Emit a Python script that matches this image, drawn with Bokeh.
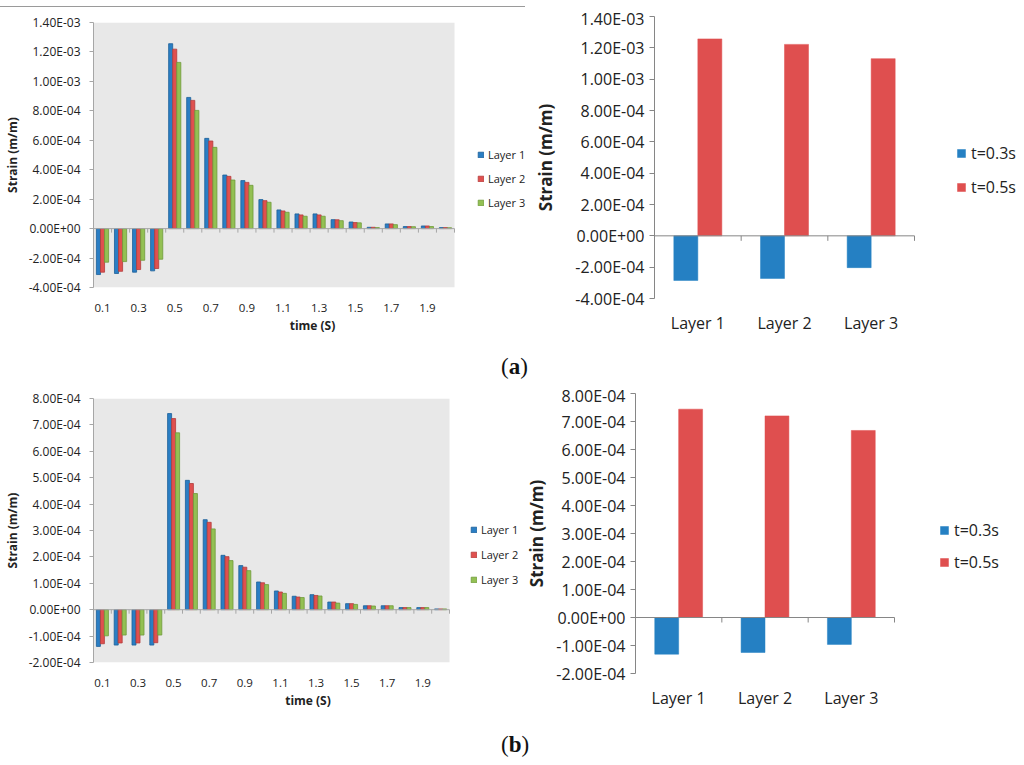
from bokeh.plotting import figure
from bokeh.layouts import column, row
from bokeh.models import Legend, LegendItem, FixedTicker, Range1d, Div, Spacer, BoxAnnotation
from bokeh.embed import file_html
from bokeh.resources import INLINE

# ---------------- data ----------------
times = ["0.1", "0.2", "0.3", "0.4", "0.5", "0.6", "0.7", "0.8", "0.9", "1.0",
         "1.1", "1.2", "1.3", "1.4", "1.5", "1.6", "1.7", "1.8", "1.9", "2.0"]
series_names = ["Layer 1", "Layer 2", "Layer 3"]

a_layer1 = [-3.12e-4, -3.05e-4, -2.96e-4, -2.87e-4, 1.256e-3, 8.91e-4, 6.13e-4, 3.64e-4, 3.26e-4, 1.97e-4,
            1.27e-4, 1.00e-4, 1.00e-4, 6.1e-5, 4.5e-5, 9e-6, 3.2e-5, 1.4e-5, 1.8e-5, 7e-6]
a_layer2 = [-2.96e-4, -2.90e-4, -2.78e-4, -2.71e-4, 1.219e-3, 8.71e-4, 5.95e-4, 3.55e-4, 3.14e-4, 1.90e-4,
            1.20e-4, 9.3e-5, 9.3e-5, 6.0e-5, 4.1e-5, 9e-6, 3.2e-5, 1.4e-5, 1.8e-5, 7e-6]
a_layer3 = [-2.28e-4, -2.24e-4, -2.15e-4, -2.08e-4, 1.129e-3, 8.03e-4, 5.52e-4, 3.30e-4, 2.94e-4, 1.79e-4,
            1.11e-4, 8.4e-5, 8.4e-5, 5.4e-5, 3.9e-5, 7e-6, 2.7e-5, 1.3e-5, 1.4e-5, 6e-6]

b_layer1 = [-1.39e-4, -1.34e-4, -1.34e-4, -1.34e-4, 7.43e-4, 4.90e-4, 3.41e-4, 2.06e-4, 1.67e-4, 1.05e-4,
            7.1e-5, 5.1e-5, 5.7e-5, 2.9e-5, 2.3e-5, 1.5e-5, 1.5e-5, 8e-6, 8e-6, 3e-6]
b_layer2 = [-1.29e-4, -1.26e-4, -1.26e-4, -1.25e-4, 7.24e-4, 4.78e-4, 3.31e-4, 2.01e-4, 1.61e-4, 1.02e-4,
            6.7e-5, 4.8e-5, 5.4e-5, 2.9e-5, 2.3e-5, 1.5e-5, 1.5e-5, 8e-6, 8e-6, 3e-6]
b_layer3 = [-0.99e-4, -0.96e-4, -0.96e-4, -0.96e-4, 6.70e-4, 4.40e-4, 3.06e-4, 1.86e-4, 1.48e-4, 0.95e-4,
            6.2e-5, 4.6e-5, 5.2e-5, 2.5e-5, 2.0e-5, 1.4e-5, 1.5e-5, 8e-6, 8e-6, 3e-6]

layers = ["Layer 1", "Layer 2", "Layer 3"]
snap_names = ["t=0.3s", "t=0.5s"]
a_t03 = [-2.85e-4, -2.72e-4, -2.03e-4]
a_t05 = [1.257e-3, 1.222e-3, 1.131e-3]
b_t03 = [-1.31e-4, -1.25e-4, -0.96e-4]
b_t05 = [7.44e-4, 7.20e-4, 6.68e-4]

a_yticks = [-4e-4, -2e-4, 0.0, 2e-4, 4e-4, 6e-4, 8e-4, 1e-3, 1.2e-3, 1.4e-3]
a_ylabels = ["-4.00E-04", "-2.00E-04", "0.00E+00", "2.00E-04", "4.00E-04", "6.00E-04",
             "8.00E-04", "1.00E-03", "1.20E-03", "1.40E-03"]
b_yticks = [-2e-4, -1e-4, 0.0, 1e-4, 2e-4, 3e-4, 4e-4, 5e-4, 6e-4, 7e-4, 8e-4]
b_ylabels = ["-2.00E-04", "-1.00E-04", "0.00E+00", "1.00E-04", "2.00E-04", "3.00E-04",
             "4.00E-04", "5.00E-04", "6.00E-04", "7.00E-04", "8.00E-04"]

# ---------------- styles ----------------
FONT = "Open Sans"
TXT = "#222222"
L_FILL = ["#2a7ec4", "#e0504f", "#93c053"]
L_EDGE = ["#1d5f98", "#b33c3c", "#6f9a3a"]
R_FILL = ["#2580c3", "#df4f4f"]
L_AXIS = "#a6a6a6"
R_AXIS = "#868686"


def style_legend(leg, glyph, label_h, spacing, font_size, standoff):
    leg.background_fill_alpha = 0
    leg.border_line_alpha = 0
    leg.padding = 0
    leg.margin = 0
    leg.glyph_width = glyph
    leg.glyph_height = glyph
    leg.label_height = label_h
    leg.spacing = spacing
    leg.label_standoff = standoff
    leg.label_text_font = FONT
    leg.label_text_font_size = font_size
    leg.label_text_color = TXT


def time_chart(vals, yticks, ylabels, fw, data_w, fh, bl, bt, bb, leg_loc, leg_spacing):
    n = len(times)
    x_end = -0.5 + n * fw / data_w
    p = figure(output_backend="svg", toolbar_location=None,
               frame_width=fw, frame_height=fh,
               min_border_left=bl, min_border_right=0, min_border_top=bt, min_border_bottom=bb,
               x_range=Range1d(-0.5, x_end), y_range=Range1d(yticks[0], yticks[-1]))
    p.background_fill_color = "white"
    p.border_fill_color = "white"
    p.outline_line_color = None
    p.xgrid.visible = False
    p.ygrid.visible = False
    # grey plot area behind the data only
    p.add_layout(BoxAnnotation(left=-0.5, right=n - 0.5, fill_color="#e8e8e8", fill_alpha=1,
                               line_color=None, level="underlay"))

    bw = 0.225
    renderers = []
    for k, v in enumerate(vals):
        xs = [i + (k - 1) * bw for i in range(n)]
        r = p.vbar(x=xs, top=v, bottom=0, width=bw, fill_color=L_FILL[k],
                   line_color=L_EDGE[k], line_width=0.8)
        renderers.append(r)

    # horizontal axis line at zero with category-boundary ticks
    tick_len = 4 * (yticks[-1] - yticks[0]) / fh
    bounds = [i - 0.5 for i in range(n + 1)]
    p.segment(x0=[bounds[0]], y0=[0], x1=[bounds[-1]], y1=[0], line_color=L_AXIS, line_width=1)
    p.segment(x0=bounds, y0=[0] * len(bounds), x1=bounds, y1=[-tick_len] * len(bounds),
              line_color=L_AXIS, line_width=1)

    ya = p.yaxis[0]
    ya.ticker = FixedTicker(ticks=yticks)
    ya.major_label_overrides = dict(zip(yticks, ylabels))
    ya.axis_line_color = L_AXIS
    ya.major_tick_line_color = L_AXIS
    ya.major_tick_out = 4
    ya.major_tick_in = 0
    ya.minor_tick_line_color = None
    ya.major_label_text_font = FONT
    ya.major_label_text_font_size = "12px"
    ya.major_label_text_color = TXT
    ya.major_label_standoff = 9
    ya.axis_label = "Strain (m/m)"
    ya.axis_label_text_font = FONT
    ya.axis_label_text_font_style = "bold"
    ya.axis_label_text_font_size = "12px"
    ya.axis_label_text_color = TXT
    ya.axis_label_standoff = 5

    xa = p.xaxis[0]
    xt = list(range(0, n, 2))
    xa.ticker = FixedTicker(ticks=xt)
    xa.major_label_overrides = {i: times[i] for i in xt}
    xa.axis_line_color = None
    xa.major_tick_line_color = None
    xa.minor_tick_line_color = None
    xa.major_label_text_font = FONT
    xa.major_label_text_font_size = "11.5px"
    xa.major_label_text_color = TXT
    xa.major_label_standoff = 10
    xa.axis_label = "time (S)"
    xa.axis_label_text_font = FONT
    xa.axis_label_text_font_style = "bold"
    xa.axis_label_text_font_size = "12px"
    xa.axis_label_text_color = TXT
    xa.axis_label_standoff = 2

    leg = Legend(items=[LegendItem(label=series_names[k], renderers=[renderers[k]]) for k in range(3)],
                 location=leg_loc, orientation="vertical")
    style_legend(leg, 7, 11, leg_spacing, "11px", 4)
    p.add_layout(leg)
    return p


def layer_chart(t03, t05, yticks, ylabels, fw, data_w, fh, bl, bt, bb, leg_loc, leg_spacing, lab_standoff):
    n = len(layers)
    x_end = n * fw / data_w
    p = figure(output_backend="svg", toolbar_location=None,
               frame_width=fw, frame_height=fh,
               min_border_left=bl, min_border_right=0, min_border_top=bt, min_border_bottom=bb,
               x_range=Range1d(0, x_end), y_range=Range1d(yticks[0], yticks[-1]))
    p.background_fill_color = "white"
    p.border_fill_color = "white"
    p.outline_line_color = None
    p.xgrid.visible = False
    p.ygrid.visible = False

    bw = 0.277
    r1 = p.vbar(x=[i + 0.5 - bw / 2 for i in range(n)], top=t03, bottom=0, width=bw,
                fill_color=R_FILL[0], line_color=R_FILL[0], line_width=0.5)
    r2 = p.vbar(x=[i + 0.5 + bw / 2 for i in range(n)], top=t05, bottom=0, width=bw,
                fill_color=R_FILL[1], line_color=R_FILL[1], line_width=0.5)

    tick_len = 5 * (yticks[-1] - yticks[0]) / fh
    bounds = list(range(n + 1))
    p.segment(x0=[bounds[0]], y0=[0], x1=[bounds[-1]], y1=[0], line_color=R_AXIS, line_width=1)
    p.segment(x0=bounds, y0=[0] * len(bounds), x1=bounds, y1=[-tick_len] * len(bounds),
              line_color=R_AXIS, line_width=1)

    ya = p.yaxis[0]
    ya.ticker = FixedTicker(ticks=yticks)
    ya.major_label_overrides = dict(zip(yticks, ylabels))
    ya.axis_line_color = R_AXIS
    ya.major_tick_line_color = R_AXIS
    ya.major_tick_out = 5
    ya.major_tick_in = 0
    ya.minor_tick_line_color = None
    ya.major_label_text_font = FONT
    ya.major_label_text_font_size = "16px"
    ya.major_label_text_color = TXT
    ya.major_label_standoff = 5
    ya.axis_label = "Strain (m/m)"
    ya.axis_label_text_font = FONT
    ya.axis_label_text_font_style = "bold"
    ya.axis_label_text_font_size = "17px"
    ya.axis_label_text_color = TXT
    ya.axis_label_standoff = lab_standoff

    xa = p.xaxis[0]
    xt = [i + 0.5 for i in range(n)]
    xa.ticker = FixedTicker(ticks=xt)
    xa.major_label_overrides = {xt[i]: layers[i] for i in range(n)}
    xa.axis_line_color = None
    xa.major_tick_line_color = None
    xa.minor_tick_line_color = None
    xa.major_label_text_font = FONT
    xa.major_label_text_font_size = "16px"
    xa.major_label_text_color = TXT
    xa.major_label_standoff = 7

    leg = Legend(items=[LegendItem(label=snap_names[0], renderers=[r1]),
                        LegendItem(label=snap_names[1], renderers=[r2])],
                 location=leg_loc, orientation="vertical")
    style_legend(leg, 10, 18, leg_spacing, "16px", 5)
    p.add_layout(leg)
    return p


# top row (height 345)
pa1 = time_chart([a_layer1, a_layer2, a_layer3], a_yticks, a_ylabels,
                 fw=438, data_w=361, fh=265, bl=87, bt=9, bb=58, leg_loc=(384, 77), leg_spacing=9)
pa2 = layer_chart(a_t03, a_t05, a_yticks, a_ylabels,
                  fw=371, data_w=260, fh=282, bl=112, bt=9, bb=47, leg_loc=(302, 100), leg_spacing=12,
                  lab_standoff=15)

# bottom row (height 335)
pb1 = time_chart([b_layer1, b_layer2, b_layer3], b_yticks, b_ylabels,
                 fw=429, data_w=356, fh=264, bl=93, bt=9, bb=56, leg_loc=(377, 75), leg_spacing=10)
pb2 = layer_chart(b_t03, b_t05, b_yticks, b_ylabels,
                  fw=382, data_w=259, fh=280, bl=104, bt=9, bb=45, leg_loc=(304, 100), leg_spacing=10,
                  lab_standoff=5)

rule = Spacer(width=525, height=1, styles={"background-color": "#9a9a9a"})

cap_style = "font-family:'Liberation Serif','DejaVu Serif',serif;font-size:23px;color:#111;"
cap_a = Div(text=f"<div style=\"margin-left:496px;margin-top:5px;line-height:24px;{cap_style}\">(<b>a</b>)</div>",
            width=1008, height=28)
cap_b = Div(text=f"<div style=\"margin-left:496px;margin-top:7px;line-height:30px;{cap_style}\">(<b>b</b>)</div>",
            width=1008, height=35)

top_row = row(column(Spacer(width=525, height=6), rule, Spacer(width=525, height=6), pa1),
              column(Spacer(width=483, height=7), pa2))
bottom_row = row(column(Spacer(width=522, height=6), pb1), column(Spacer(width=486, height=1), pb2))

layout = column(top_row, cap_a, bottom_row, cap_b)

open("out.html", "w").write(file_html(layout, INLINE))
